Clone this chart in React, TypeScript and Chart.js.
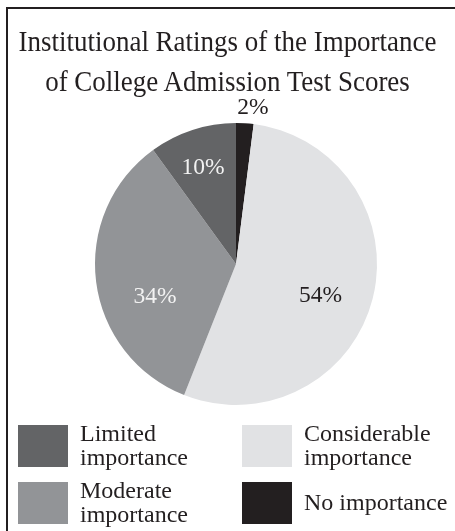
import React, { useEffect, useRef } from "react";
import { Chart, registerables } from "chart.js";

Chart.register(...registerables);

const titleLines = ["Institutional Ratings of the Importance", "of College Admission Test Scores"];
const categories = ["No importance", "Considerable importance", "Moderate importance", "Limited importance"];
const values = [2, 54, 34, 10];
const sliceColors = ["#231f20", "#e1e2e4", "#929497", "#636466"];
const labelColors = ["#231f20", "#231f20", "#f2f2f2", "#f2f2f2"];
const legendOrder = [3, 1, 2, 0];
const legendLines = [["No importance"], ["Considerable", "importance"], ["Moderate", "importance"], ["Limited", "importance"]];

const FONT = '"Liberation Serif", "Times New Roman", serif';

const labelPlugin = {
  id: "sliceLabels",
  afterDatasetsDraw(chart: any) {
    const ctx = chart.ctx;
    const meta = chart.getDatasetMeta(0);
    const fracs = [1.113, 0.64, 0.62, 0.72];
    const shifts = [2.6, 6, -15, -1];
    ctx.save();
    ctx.font = `23.5px ${FONT}`;
    ctx.textAlign = "center";
    ctx.textBaseline = "middle";
    meta.data.forEach((arc: any, i: number) => {
      const p = arc.getProps(["x", "y", "startAngle", "endAngle", "outerRadius"], true);
      const mid = (p.startAngle + p.endAngle) / 2 + (shifts[i] * Math.PI) / 180;
      const r = p.outerRadius * fracs[i];
      ctx.fillStyle = labelColors[i];
      ctx.fillText(values[i] + "%", p.x + Math.cos(mid) * r, p.y + Math.sin(mid) * r);
    });
    ctx.restore();
  },
};

export default function App() {
  const ref = useRef<HTMLCanvasElement>(null);
  useEffect(() => {
    if (!ref.current) return;
    const chart = new Chart(ref.current, {
      type: "pie",
      data: {
        labels: categories,
        datasets: [{ data: values, backgroundColor: sliceColors, borderWidth: 0 }],
      },
      options: {
        responsive: false,
        animation: false,
        layout: { padding: { left: 95, top: 123, right: 78, bottom: 126 } },
        plugins: { legend: { display: false }, tooltip: { enabled: false }, title: { display: false } },
      },
      plugins: [labelPlugin],
    });
    return () => chart.destroy();
  }, []);

  const swatchPos = [
    { x: 18, y: 425 },
    { x: 242, y: 425 },
    { x: 18, y: 482 },
    { x: 242, y: 482 },
  ];

  return (
    <div style={{ position: "absolute", left: 0, top: 0, width: 455, height: 531, background: "#fff", overflow: "hidden", fontFamily: FONT, color: "#231f20" }}>
      <div style={{ position: "absolute", left: 6, top: 7, width: 460, height: 540, borderLeft: "2px solid #231f20", borderTop: "2px solid #231f20" }} />
      <canvas ref={ref} width={455} height={531} style={{ position: "absolute", left: 0, top: 0, width: 455, height: 531 }} />
      <div style={{ position: "absolute", left: 0, top: 21, width: 455, textAlign: "center", fontSize: 29, lineHeight: "40px", transform: "scaleX(0.93)", transformOrigin: "227.5px 0" }}>
        {titleLines.map((t, i) => (
          <div key={i} style={{ whiteSpace: "nowrap" }}>{t}</div>
        ))}
      </div>
      {legendOrder.map((idx, k) => {
        const pos = swatchPos[k];
        const lines = legendLines[idx];
        const textTop = lines.length === 1 ? pos.y + 8 : pos.y - 4;
        return (
          <React.Fragment key={k}>
            <div style={{ position: "absolute", left: pos.x, top: pos.y, width: 50, height: 42, background: sliceColors[idx] }} />
            <div style={{ position: "absolute", left: pos.x + 62, top: textTop, fontSize: 24, lineHeight: "24px", whiteSpace: "nowrap" }}>
              {lines.map((l, j) => (
                <div key={j}>{l}</div>
              ))}
            </div>
          </React.Fragment>
        );
      })}
    </div>
  );
}
